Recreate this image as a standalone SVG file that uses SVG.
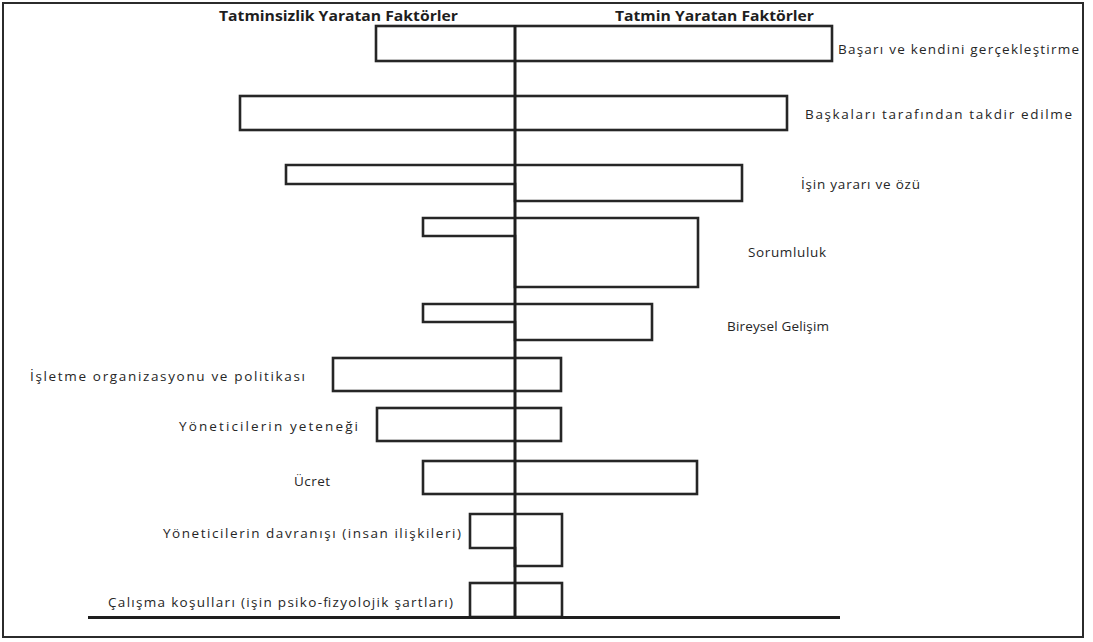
<svg xmlns="http://www.w3.org/2000/svg" width="1093" height="642" viewBox="0 0 1093 642">
  <style>
    .frame { fill: #ffffff; stroke: #2b2b2b; stroke-width: 2; }
    .bar { fill: #ffffff; stroke: #262626; stroke-width: 2.6; stroke-linejoin: miter; }
    .axis { stroke: #1e1e1e; stroke-width: 3; fill: none; }
    .lbl { font-family: "Open Sans", "Liberation Sans", sans-serif; font-size: 13.5px; fill: #262626; }
    .hdr { font-family: "Open Sans", "Liberation Sans", sans-serif; font-size: 13.5px; font-weight: bold; fill: #1e1e1e; }
  </style>

  <!-- page frame -->
  <rect class="frame" x="3" y="3" width="1080" height="634"/>

  <!-- column headings -->
  <g id="headings">
    <text class="hdr" x="219" y="21" textLength="239" lengthAdjust="spacingAndGlyphs">Tatminsizlik Yaratan Faktörler</text>
    <text class="hdr" x="615" y="21" textLength="199" lengthAdjust="spacingAndGlyphs">Tatmin Yaratan Faktörler</text>
  </g>

  <!-- motivators: bars extend further right of the axis -->
  <g id="basari">
    <rect class="bar" x="376" y="26" width="456" height="35"/>
    <text class="lbl" x="838" y="54" textLength="241" lengthAdjust="spacing">Başarı ve kendini gerçekleştirme</text>
  </g>
  <g id="takdir">
    <rect class="bar" x="240" y="96" width="547" height="34"/>
    <text class="lbl" x="805" y="119" textLength="267" lengthAdjust="spacing">Başkaları tarafından takdir edilme</text>
  </g>
  <g id="isin-yarari">
    <path class="bar" d="M286,165 H742 V201 H515 V184 H286 Z"/>
    <text class="lbl" x="801" y="189" textLength="119" lengthAdjust="spacing">İşin yararı ve özü</text>
  </g>
  <g id="sorumluluk">
    <path class="bar" d="M423,218 H698 V287 H515 V236 H423 Z"/>
    <text class="lbl" x="748" y="257" textLength="78" lengthAdjust="spacing">Sorumluluk</text>
  </g>
  <g id="bireysel-gelisim">
    <path class="bar" d="M423,304 H652 V340 H515 V322 H423 Z"/>
    <text class="lbl" x="727" y="331" textLength="102" lengthAdjust="spacing">Bireysel Gelişim</text>
  </g>

  <!-- hygiene factors: bars extend further left of the axis -->
  <g id="isletme">
    <rect class="bar" x="333" y="358" width="228" height="33"/>
    <text class="lbl" x="305" y="381" text-anchor="end" textLength="275" lengthAdjust="spacing">İşletme organizasyonu ve politikası</text>
  </g>
  <g id="yonetici-yetenegi">
    <rect class="bar" x="377" y="408" width="184" height="33"/>
    <text class="lbl" x="358" y="431" text-anchor="end" textLength="179" lengthAdjust="spacing">Yöneticilerin yeteneği</text>
  </g>
  <g id="ucret">
    <rect class="bar" x="423" y="461" width="274" height="33"/>
    <text class="lbl" x="330" y="486" text-anchor="end" textLength="36" lengthAdjust="spacing">Ücret</text>
  </g>
  <g id="yonetici-davranisi">
    <path class="bar" d="M470,514 H562 V566 H515 V548 H470 Z"/>
    <text class="lbl" x="461" y="538" text-anchor="end" textLength="298" lengthAdjust="spacing">Yöneticilerin davranışı (insan ilişkileri)</text>
  </g>
  <g id="calisma-kosullari">
    <rect class="bar" x="470" y="583" width="92" height="34"/>
    <text class="lbl" x="453" y="607" text-anchor="end" textLength="345" lengthAdjust="spacing">Çalışma koşulları (işin psiko-fizyolojik şartları)</text>
  </g>

  <!-- central axis and base line -->
  <g id="axes">
    <line class="axis" x1="515" y1="25" x2="515" y2="618"/>
    <line class="axis" x1="88" y1="617.5" x2="840" y2="617.5"/>
  </g>
</svg>
